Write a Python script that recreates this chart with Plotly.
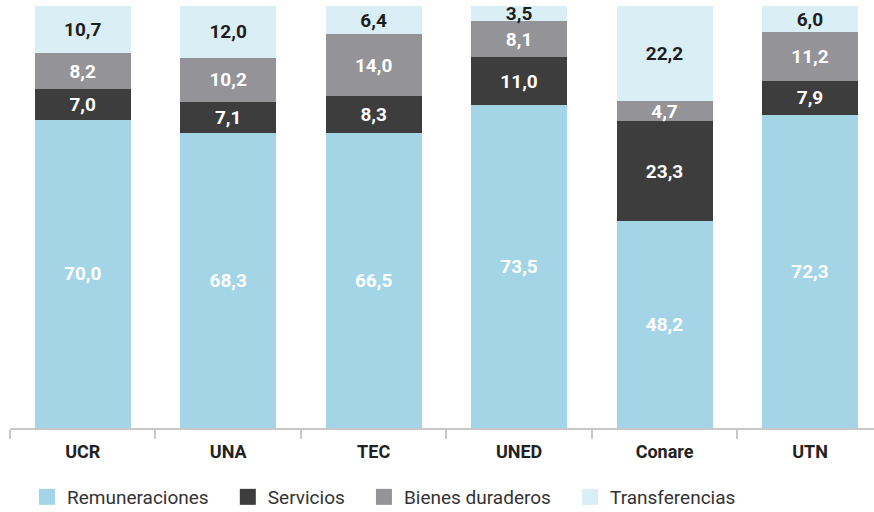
import plotly.graph_objects as go

categories = ["UCR", "UNA", "TEC", "UNED", "Conare", "UTN"]
remuneraciones = [70.0, 68.3, 66.5, 73.5, 48.2, 72.3]
servicios = [7.0, 7.1, 8.3, 11.0, 23.3, 7.9]
bienes = [8.2, 10.2, 14.0, 8.1, 4.7, 11.2]
transferencias = [10.7, 12.0, 6.4, 3.5, 22.2, 6.0]

series = [
    ("Remuneraciones", remuneraciones, "#a3d5e7", "white"),
    ("Servicios", servicios, "#3d3d3d", "white"),
    ("Bienes duraderos", bienes, "#949498", "white"),
    ("Transferencias", transferencias, "#d9eef5", "#1e1e1e"),
]

def fmt(v):
    return f"{v:.1f}".replace(".", ",")

fig = go.Figure()
for name, vals, color, tcolor in series:
    fig.add_trace(go.Bar(
        x=categories, y=vals, name=name,
        marker=dict(color=color, line=dict(width=0)),
        text=[fmt(v) for v in vals],
        textposition="inside", insidetextanchor="middle",
        constraintext="none",
        textfont=dict(family="Roboto", size=19, color=tcolor, weight="bold"),
        showlegend=False, hoverinfo="skip",
    ))
    fig.add_trace(go.Scatter(
        x=[None], y=[None], mode="markers", name=name + "\u00a0\u00a0\u00a0",
        marker=dict(symbol="square", size=20, color=color),
        showlegend=True, hoverinfo="skip",
    ))

fig.update_layout(
    width=874, height=512,
    barmode="stack", barnorm="percent", bargap=0.34,
    plot_bgcolor="white", paper_bgcolor="white",
    margin=dict(l=10, r=0, t=6, b=84),
    font=dict(family="Roboto", color="#222"),
    hovermode=False,
    legend=dict(orientation="h", xref="container", x=27 / 874, xanchor="left",
                yref="container", y=1 - 497 / 512, yanchor="middle",
                font=dict(size=19, color="#333", family="Roboto"),
                itemsizing="trace", traceorder="normal", tracegroupgap=0),
    xaxis=dict(range=[-0.5, 5.44], showline=True, linecolor="#c8c8c8", linewidth=2,
               ticks="outside", ticklen=9, tickcolor="#c8c8c8", tickwidth=2,
               tickson="boundaries", ticklabelstandoff=6,
               tickfont=dict(size=18, color="#222", family="Roboto", weight="bold"),
               showgrid=False, fixedrange=True),
    yaxis=dict(range=[0, 100], visible=False, showgrid=False, fixedrange=True),
)

fig.write_html("out.html", config={"displayModeBar": False},
               post_script="document.body.style.margin='0';")
